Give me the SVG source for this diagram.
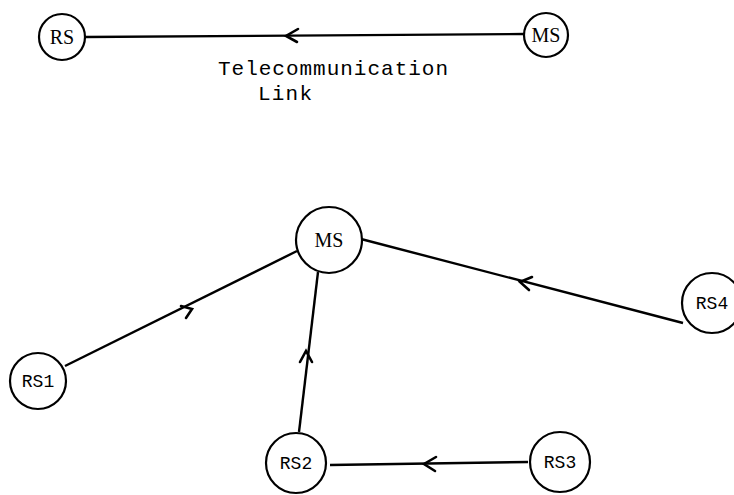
<svg xmlns="http://www.w3.org/2000/svg" width="734" height="495" viewBox="0 0 734 495">
<style>
.node{fill:#fff;stroke:#000;stroke-width:2.2}
.edge{stroke:#000;stroke-width:2.4;fill:none}
.tick{stroke:#000;stroke-width:2.6;fill:none;stroke-linecap:round}
.ser{font-family:"Liberation Serif","DejaVu Serif",serif;font-size:20px;fill:#000;text-anchor:middle}
.mono{font-family:"Liberation Mono","DejaVu Sans Mono",monospace;font-size:18px;fill:#000;text-anchor:middle}
.lbl{font-family:"Liberation Mono","DejaVu Sans Mono",monospace;font-size:21px;fill:#000}
</style>
<rect width="734" height="495" fill="#fff"/>
<g id="connectors">
<line class="edge" x1="85" y1="37" x2="524" y2="34"/>
<path class="tick" d="M298,29 L286,36 L297,42"/>
<line class="edge" x1="297" y1="251" x2="65" y2="366"/>
<path class="tick" d="M181,306 L192,309 L186,318"/>
<line class="edge" x1="318" y1="272" x2="299" y2="432"/>
<path class="tick" d="M300,362 L306,351 L312,362"/>
<line class="edge" x1="361" y1="239" x2="683" y2="323"/>
<path class="tick" d="M532,277 L520,282 L529,290"/>
<line class="edge" x1="330" y1="465" x2="528" y2="462"/>
<path class="tick" d="M436,457 L424,464 L435,471"/>
</g>
<g id="label-link">
<text class="lbl" x="218" y="75" textLength="230">Telecommunication</text>
<text class="lbl" x="258" y="100" textLength="54">Link</text>
</g>
<g id="node-rs-top"><circle class="node" cx="62" cy="37" r="23"/><text class="ser" x="62" y="44">RS</text></g>
<g id="node-ms-top"><circle class="node" cx="546" cy="35" r="22"/><text class="ser" x="546" y="42">MS</text></g>
<g id="node-ms"><circle class="node" cx="329" cy="240" r="33"/><text class="ser" x="329" y="247">MS</text></g>
<g id="node-rs1"><circle class="node" cx="38" cy="381" r="28"/><text class="mono" x="38" y="387">RS1</text></g>
<g id="node-rs2"><circle class="node" cx="296" cy="463" r="30"/><text class="mono" x="296" y="469">RS2</text></g>
<g id="node-rs3"><circle class="node" cx="560" cy="462" r="30"/><text class="mono" x="560" y="468">RS3</text></g>
<g id="node-rs4"><circle class="node" cx="712" cy="303" r="30"/><text class="mono" x="712" y="309">RS4</text></g>
</svg>
